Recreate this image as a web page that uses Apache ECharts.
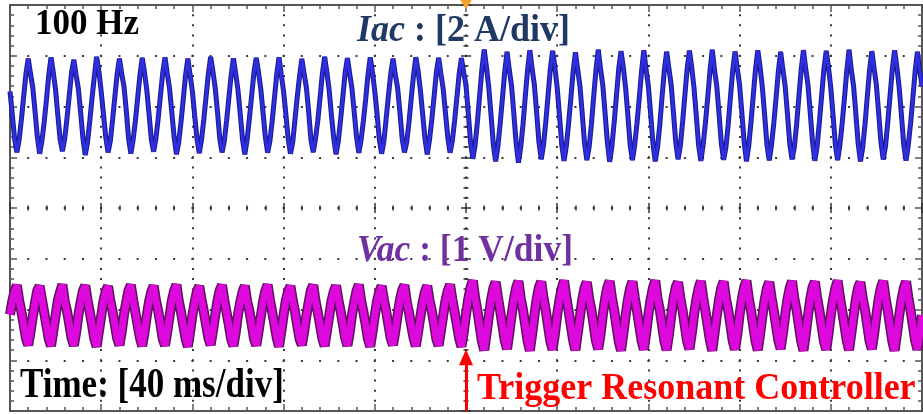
<!DOCTYPE html>
<html>
<head>
<meta charset="utf-8">
<script src="https://cdn.jsdelivr.net/npm/echarts@6/dist/echarts.min.js"></script>
<style>
html,body{margin:0;padding:0;background:#fff;}
#chart{width:923px;height:414px;}
</style>
</head>
<body>
<div id="chart"></div>
<script>
// ---- Acquisition settings (time relative to trigger) ----
const sampleStartMs = -200;
const sampleStepMs = 1;
const timePerDivMs = 40;          // Time: [40 ms/div]
const iacAmpsPerDiv = 2;          // Iac : [2 A/div]
const vacVoltsPerDiv = 1;         // Vac : [1 V/div]
const iacGroundDiv = 2.02;        // channel offsets (divisions from centre)
const vacGroundDiv = -2.12;

// ---- Iac samples (A), one 10 ms cycle per line ----
const iacAmps = [
0.55,-0.35,-1.30,-1.85,-1.35,-0.55,0.35,1.25,1.85,1.25,
0.70,-0.25,-1.25,-1.90,-1.40,-0.65,0.25,1.20,1.90,1.30,
0.60,-0.40,-1.35,-1.80,-1.30,-0.50,0.40,1.30,1.80,1.20,
0.65,-0.30,-1.30,-1.95,-1.45,-0.60,0.30,1.15,1.92,1.35,
0.55,-0.35,-1.25,-1.85,-1.40,-0.55,0.35,1.25,1.85,1.25,
0.75,-0.20,-1.30,-1.90,-1.35,-0.60,0.30,1.20,1.88,1.30,
0.60,-0.35,-1.35,-1.82,-1.30,-0.50,0.40,1.30,1.90,1.25,
0.65,-0.30,-1.25,-1.92,-1.45,-0.65,0.25,1.20,1.85,1.20,
0.55,-0.40,-1.30,-1.88,-1.35,-0.55,0.35,1.25,1.92,1.35,
0.70,-0.25,-1.30,-1.85,-1.40,-0.60,0.30,1.20,1.86,1.25,
0.60,-0.35,-1.35,-1.93,-1.35,-0.50,0.40,1.30,1.88,1.30,
0.65,-0.30,-1.25,-1.86,-1.40,-0.60,0.30,1.25,1.90,1.20,
0.55,-0.35,-1.30,-1.90,-1.45,-0.55,0.35,1.15,1.84,1.25,
0.70,-0.25,-1.35,-1.84,-1.30,-0.60,0.30,1.25,1.92,1.30,
0.60,-0.40,-1.30,-1.92,-1.40,-0.55,0.35,1.30,1.87,1.25,
0.65,-0.30,-1.25,-1.87,-1.35,-0.60,0.25,1.20,1.90,1.30,
0.55,-0.35,-1.35,-1.90,-1.40,-0.50,0.40,1.25,1.85,1.20,
0.70,-0.25,-1.30,-1.85,-1.45,-0.65,0.30,1.20,1.90,1.35,
0.60,-0.35,-1.30,-1.93,-1.35,-0.55,0.35,1.30,1.88,1.25,
0.65,-0.30,-1.25,-1.86,-1.40,-0.60,0.30,1.25,1.87,1.30,
0.80,-0.30,-1.45,-2.10,-1.55,-0.65,0.40,1.45,2.20,1.50,
0.70,-0.40,-1.55,-2.20,-1.60,-0.70,0.30,1.35,2.12,1.40,
0.75,-0.35,-1.50,-2.25,-1.65,-0.75,0.35,1.40,2.18,1.45,
0.80,-0.30,-1.45,-2.12,-1.55,-0.65,0.40,1.45,2.15,1.50,
0.70,-0.40,-1.55,-2.18,-1.60,-0.70,0.30,1.35,2.10,1.40,
0.75,-0.35,-1.50,-2.15,-1.65,-0.75,0.35,1.40,2.20,1.45,
0.80,-0.30,-1.45,-2.22,-1.60,-0.65,0.40,1.45,2.14,1.50,
0.70,-0.40,-1.55,-2.15,-1.55,-0.70,0.30,1.35,2.18,1.40,
0.75,-0.35,-1.50,-2.20,-1.65,-0.75,0.35,1.40,2.12,1.45,
0.80,-0.30,-1.45,-2.12,-1.60,-0.65,0.40,1.45,2.16,1.50,
0.70,-0.40,-1.55,-2.18,-1.55,-0.70,0.30,1.35,2.20,1.40,
0.75,-0.35,-1.50,-2.14,-1.65,-0.75,0.35,1.40,2.13,1.45,
0.80,-0.30,-1.45,-2.20,-1.60,-0.65,0.40,1.45,2.17,1.50,
0.70,-0.40,-1.55,-2.16,-1.55,-0.70,0.30,1.35,2.12,1.40,
0.75,-0.35,-1.50,-2.12,-1.65,-0.75,0.35,1.40,2.18,1.45,
0.80,-0.30,-1.45,-2.18,-1.60,-0.65,0.40,1.45,2.15,1.50,
0.70,-0.40,-1.55,-2.15,-1.55,-0.70,0.30,1.35,2.20,1.40,
0.75,-0.35,-1.50,-2.20,-1.65,-0.75,0.35,1.40,2.14,1.45,
0.80,-0.30,-1.45,-2.13,-1.60,-0.65,0.40,1.45,2.17,1.50,
0.70,-0.40,-1.55,-2.17,-1.55,-0.70,0.30,1.35,2.12,1.40,
0.75
];

// ---- Vac samples (V), one 10 ms cycle per line ----
const vacVolts = [
0.02,0.28,0.48,0.60,0.30,0.08,-0.18,-0.45,-0.58,-0.32,
-0.02,0.26,0.50,0.58,0.32,0.06,-0.20,-0.46,-0.60,-0.30,
0.00,0.30,0.47,0.61,0.28,0.09,-0.17,-0.44,-0.59,-0.33,
0.01,0.27,0.49,0.59,0.31,0.07,-0.19,-0.46,-0.61,-0.31,
-0.01,0.29,0.48,0.58,0.29,0.08,-0.18,-0.45,-0.58,-0.32,
0.02,0.27,0.50,0.60,0.31,0.06,-0.19,-0.44,-0.60,-0.33,
0.00,0.28,0.47,0.59,0.30,0.09,-0.17,-0.46,-0.59,-0.31,
-0.01,0.30,0.49,0.61,0.29,0.07,-0.20,-0.45,-0.61,-0.32,
0.01,0.26,0.48,0.58,0.32,0.08,-0.18,-0.44,-0.58,-0.30,
0.00,0.29,0.50,0.60,0.30,0.06,-0.19,-0.46,-0.60,-0.33,
0.02,0.27,0.47,0.59,0.28,0.09,-0.17,-0.45,-0.59,-0.32,
-0.02,0.28,0.49,0.61,0.31,0.07,-0.18,-0.44,-0.61,-0.31,
0.01,0.30,0.48,0.58,0.30,0.08,-0.20,-0.46,-0.58,-0.32,
0.00,0.26,0.50,0.60,0.29,0.06,-0.19,-0.45,-0.60,-0.30,
-0.01,0.29,0.47,0.59,0.32,0.09,-0.17,-0.44,-0.59,-0.33,
0.02,0.27,0.49,0.61,0.30,0.07,-0.18,-0.46,-0.61,-0.32,
0.00,0.28,0.48,0.58,0.31,0.08,-0.19,-0.45,-0.58,-0.31,
0.01,0.30,0.50,0.60,0.28,0.06,-0.20,-0.44,-0.60,-0.32,
-0.02,0.26,0.47,0.59,0.30,0.09,-0.17,-0.46,-0.59,-0.30,
0.00,0.29,0.49,0.61,0.32,0.07,-0.18,-0.45,-0.61,-0.33,
0.02,0.33,0.56,0.69,0.35,0.10,-0.21,-0.51,-0.68,-0.36,
-0.01,0.31,0.54,0.66,0.36,0.09,-0.20,-0.49,-0.66,-0.35,
0.01,0.32,0.55,0.68,0.34,0.11,-0.19,-0.50,-0.69,-0.37,
0.00,0.33,0.56,0.67,0.35,0.10,-0.21,-0.51,-0.67,-0.36,
0.02,0.31,0.54,0.69,0.36,0.09,-0.20,-0.49,-0.68,-0.35,
-0.01,0.32,0.55,0.66,0.34,0.11,-0.19,-0.50,-0.66,-0.37,
0.01,0.33,0.56,0.68,0.35,0.10,-0.21,-0.51,-0.69,-0.36,
0.00,0.31,0.54,0.67,0.36,0.09,-0.20,-0.49,-0.67,-0.35,
0.02,0.32,0.55,0.69,0.34,0.11,-0.19,-0.50,-0.68,-0.37,
-0.01,0.33,0.56,0.66,0.35,0.10,-0.21,-0.51,-0.66,-0.36,
0.01,0.31,0.54,0.68,0.36,0.09,-0.20,-0.49,-0.69,-0.35,
0.00,0.32,0.55,0.67,0.34,0.11,-0.19,-0.50,-0.67,-0.37,
0.02,0.33,0.56,0.69,0.35,0.10,-0.21,-0.51,-0.68,-0.36,
-0.01,0.31,0.54,0.66,0.36,0.09,-0.20,-0.49,-0.66,-0.35,
0.01,0.32,0.55,0.68,0.34,0.11,-0.19,-0.50,-0.69,-0.37,
0.00,0.33,0.56,0.67,0.35,0.10,-0.21,-0.51,-0.67,-0.36,
0.02,0.31,0.54,0.69,0.36,0.09,-0.20,-0.49,-0.68,-0.35,
-0.01,0.32,0.55,0.66,0.34,0.11,-0.19,-0.50,-0.66,-0.37,
0.01,0.33,0.56,0.68,0.35,0.10,-0.21,-0.51,-0.69,-0.36,
0.00,0.31,0.54,0.67,0.36,0.09,-0.20,-0.49,-0.67,-0.35,
0.01
];

// ---- Annotation texts ----
const freqText = '100 Hz';
const iacName = 'Iac';
const iacScaleText = ' : [2 A/div]';
const vacName = 'Vac';
const vacScaleText = ' : [1 V/div]';
const timeText = 'Time: [40 ms/div]';
const triggerText = 'Trigger Resonant Controller';
const triggerTimeMs = 0;

// ---- Build series data (screen divisions) ----
const iacData = iacAmps.map((a, i) => [sampleStartMs + i * sampleStepMs, iacGroundDiv + a / iacAmpsPerDiv]);
const vacData = vacVolts.map((v, i) => [sampleStartMs + i * sampleStepMs, vacGroundDiv + v / vacVoltsPerDiv]);

const SERIF = '"Liberation Serif", "Times New Roman", serif';
const frameColor = '#555';
const dotColor = '#3a3a3a';

function borderX(pos, withSplit) {
  return {
    type: 'value', min: -200, max: 200, interval: timePerDivMs, position: pos,
    axisLine: { show: true, onZero: false, lineStyle: { color: frameColor, width: 2 } },
    axisTick: { show: true, inside: true, length: 7, lineStyle: { color: frameColor, width: 1.5 } },
    minorTick: { show: true, splitNumber: 5, length: 4, lineStyle: { color: frameColor, width: 1.5 } },
    axisLabel: { show: false },
    splitLine: { show: withSplit, lineStyle: { color: dotColor, width: 2, type: [2, 8.15], dashOffset: 1 } },
    minorSplitLine: { show: false }
  };
}
function borderY(pos, withSplit) {
  return {
    type: 'value', min: -4, max: 4, interval: 1, position: pos,
    axisLine: { show: true, onZero: false, lineStyle: { color: frameColor, width: 2 } },
    axisTick: { show: true, inside: true, length: 7, lineStyle: { color: frameColor, width: 1.5 } },
    minorTick: { show: true, splitNumber: 5, length: 4, lineStyle: { color: frameColor, width: 1.5 } },
    axisLabel: { show: false },
    splitLine: { show: withSplit, lineStyle: { color: dotColor, width: 2, type: [2, 16.24], dashOffset: 1 } },
    minorSplitLine: { show: false }
  };
}
function centerX(pos) {
  return {
    type: 'value', min: -200, max: 200, interval: timePerDivMs, position: pos,
    axisLine: { show: false, onZero: true, onZeroAxisIndex: 0 },
    axisTick: { show: true, inside: true, length: 5, lineStyle: { color: '#333', width: 1.5 } },
    minorTick: { show: true, splitNumber: 5, length: 2.5, lineStyle: { color: '#333', width: 1.5 } },
    axisLabel: { show: false }, splitLine: { show: false }
  };
}
function centerY(pos) {
  return {
    type: 'value', min: -4, max: 4, interval: 1, position: pos,
    axisLine: { show: false, onZero: true, onZeroAxisIndex: 0 },
    axisTick: { show: true, inside: true, length: 5, lineStyle: { color: '#333', width: 1.5 } },
    minorTick: { show: true, splitNumber: 5, length: 2.5, lineStyle: { color: '#333', width: 1.5 } },
    axisLabel: { show: false }, splitLine: { show: false }
  };
}

const chart = echarts.init(document.getElementById('chart'), null, { renderer: 'canvas' });
chart.setOption({
  backgroundColor: '#fff',
  animation: false,
  grid: { left: 10, top: 5, right: 1, bottom: 3, containLabel: false },
  xAxis: [borderX('bottom', true), borderX('top', false), centerX('bottom'), centerX('top')],
  yAxis: [borderY('left', true), borderY('right', false), centerY('left'), centerY('right')],
  series: [
    { type: 'line', data: iacData, showSymbol: false, silent: true, z: 3,
      lineStyle: { color: '#1c1c92', width: 5 } },
    { type: 'line', data: iacData, showSymbol: false, silent: true, z: 4,
      lineStyle: { color: '#2f2fe2', width: 2.8 },
      markPoint: { silent: true, symbol: 'triangle', symbolRotate: 180, symbolSize: [13, 10], symbolOffset: [0, -1],
        itemStyle: { color: '#f2a22c' }, label: { show: false },
        data: [{ coord: [triggerTimeMs, 4] }] } },
    { type: 'line', data: vacData, showSymbol: false, silent: true, z: 3,
      lineStyle: { color: '#5e125e', width: 10 } },
    { type: 'line', data: vacData, showSymbol: false, silent: true, z: 4,
      lineStyle: { color: '#dc08dc', width: 7 },
      markLine: { silent: true, symbol: ['none', 'triangle'], symbolSize: [14, 16],
        lineStyle: { color: '#ff0000', width: 3, type: 'solid' }, label: { show: false },
        data: [[{ coord: [triggerTimeMs, -4] }, { coord: [triggerTimeMs, -2.94] }]] } }
  ],
  graphic: [
    { type: 'text', x: 35, y: 25, z: 10,
      style: { text: freqText, font: 'bold 35px ' + SERIF, fill: '#000', verticalAlign: 'middle', align: 'left' } },
    { type: 'text', x: 357, y: 31, scaleY: 1.08, z: 1,
      style: { text: '{i|' + iacName + '}{n|' + iacScaleText + '}', fill: '#1f3864', verticalAlign: 'middle', align: 'left',
        rich: { i: { fontFamily: SERIF, fontSize: 36, fontWeight: 'bold', fontStyle: 'italic', fill: '#1f3864' },
                n: { fontFamily: SERIF, fontSize: 36, fontWeight: 'bold', fill: '#1f3864' } } } },
    { type: 'text', x: 357, y: 251, scaleY: 1.08, z: 1,
      style: { text: '{i|' + vacName + '}{n|' + vacScaleText + '}', fill: '#7030a0', verticalAlign: 'middle', align: 'left',
        rich: { i: { fontFamily: SERIF, fontSize: 35.5, fontWeight: 'bold', fontStyle: 'italic', fill: '#7030a0' },
                n: { fontFamily: SERIF, fontSize: 35.5, fontWeight: 'bold', fill: '#7030a0' } } } },
    { type: 'text', x: 20, y: 386, scaleY: 1.2, z: 10,
      style: { text: timeText, font: 'bold 35px ' + SERIF, fill: '#000', verticalAlign: 'middle', align: 'left' } },
    { type: 'text', x: 477, y: 389.5, scaleY: 1.05, z: 10,
      style: { text: triggerText, font: 'bold 36px ' + SERIF, fill: '#ff0000', verticalAlign: 'middle', align: 'left' } }
  ]
});
</script>
</body>
</html>
